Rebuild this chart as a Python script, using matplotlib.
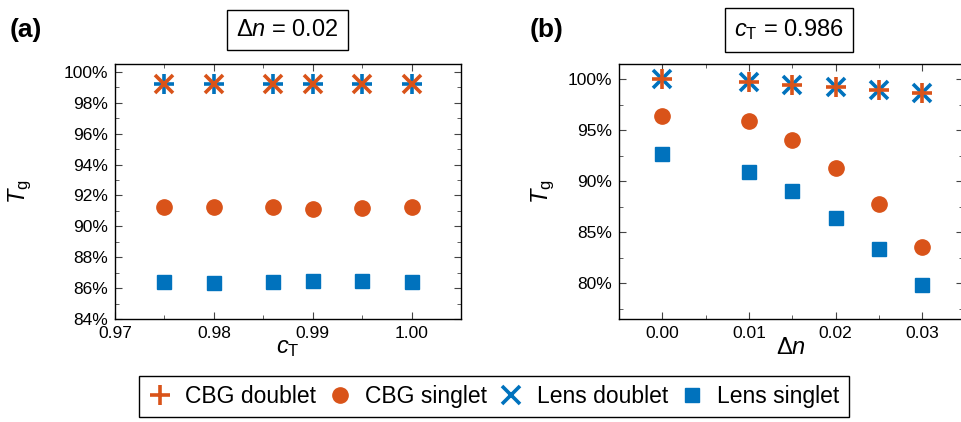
import matplotlib
matplotlib.use("Agg")
import matplotlib.pyplot as plt
from matplotlib.ticker import MultipleLocator, FuncFormatter

plt.rcParams.update({
    "font.family": "Liberation Sans", "font.size": 12.5,
    "mathtext.fontset": "custom", "mathtext.rm": "Liberation Sans",
    "mathtext.it": "Liberation Sans:italic", "mathtext.bf": "Liberation Sans:bold",
    "xtick.direction": "in", "ytick.direction": "in",
    "xtick.top": True, "ytick.right": True,
    "xtick.major.size": 5, "ytick.major.size": 5,
    "xtick.minor.size": 3, "ytick.minor.size": 3,
    "xtick.minor.visible": True, "ytick.minor.visible": True,
    "axes.linewidth": 1.0,
})
ORANGE, BLUE = "#D95319", "#0072BD"

# panel (a): delta n = 0.02, sweep over c_T
ct = [0.975, 0.98, 0.986, 0.99, 0.995, 1.00]
a_cbg_doublet = [99.2, 99.2, 99.2, 99.2, 99.2, 99.2]
a_lens_doublet = [99.2, 99.2, 99.2, 99.2, 99.2, 99.2]
a_cbg_singlet = [91.25, 91.27, 91.23, 91.15, 91.17, 91.23]
a_lens_singlet = [86.42, 86.35, 86.37, 86.48, 86.44, 86.37]

# panel (b): c_T = 0.986, sweep over delta n
dn = [0.0, 0.01, 0.015, 0.02, 0.025, 0.03]
b_cbg_doublet = [100.0, 99.74, 99.5, 99.28, 99.0, 98.7]
b_lens_doublet = [100.0, 99.74, 99.5, 99.28, 99.0, 98.7]
b_cbg_singlet = [96.45, 95.9, 94.05, 91.27, 87.75, 83.55]
b_lens_singlet = [92.65, 90.95, 89.05, 86.45, 83.4, 79.8]

pct = FuncFormatter(lambda v, _: f"{v:.0f}%")

fig = plt.figure(figsize=(9.61, 4.22), dpi=100)
axa = fig.add_axes([0.1197, 0.244, 0.360, 0.604])
axb = fig.add_axes([0.644, 0.244, 0.358, 0.604])

ms_d, mew_d = 15, 2.6
axa.plot(ct, a_lens_doublet, ls="none", marker="+", ms=ms_d, mew=mew_d, color=BLUE)
axa.plot(ct, a_cbg_doublet, ls="none", marker="x", ms=ms_d * 0.85, mew=mew_d, color=ORANGE)
axa.plot(ct, a_cbg_singlet, ls="none", marker="o", ms=11, color=ORANGE)
axa.plot(ct, a_lens_singlet, ls="none", marker="s", ms=9.5, color=BLUE)

h_ld, = axb.plot(dn, b_lens_doublet, ls="none", marker="x", ms=ms_d * 0.85, mew=mew_d, color=BLUE)
h_cd, = axb.plot(dn, b_cbg_doublet, ls="none", marker="+", ms=ms_d, mew=mew_d, color=ORANGE)
h_cs, = axb.plot(dn, b_cbg_singlet, ls="none", marker="o", ms=11, color=ORANGE)
h_ls, = axb.plot(dn, b_lens_singlet, ls="none", marker="s", ms=9.5, color=BLUE)

axa.set_xlim(0.97, 1.005)
axa.set_ylim(84, 100.5)
axa.xaxis.set_major_locator(MultipleLocator(0.01))
axa.xaxis.set_minor_locator(MultipleLocator(0.005))
axa.yaxis.set_major_locator(MultipleLocator(2))
axa.yaxis.set_minor_locator(MultipleLocator(1))
axa.xaxis.set_major_formatter(FuncFormatter(lambda v, _: f"{v:.2f}"))
axa.yaxis.set_major_formatter(pct)
axa.set_xlabel(r"$c_\mathrm{T}$", fontsize=17)
axa.set_ylabel(r"$T_\mathrm{g}$", fontsize=17)

axb.set_xlim(-0.005, 0.0347)
axb.set_ylim(76.5, 101.5)
axb.xaxis.set_major_locator(MultipleLocator(0.01))
axb.xaxis.set_minor_locator(MultipleLocator(0.005))
axb.yaxis.set_major_locator(MultipleLocator(5))
axb.yaxis.set_minor_locator(MultipleLocator(2.5))
axb.xaxis.set_major_formatter(FuncFormatter(lambda v, _: f"{v:.2f}"))
axb.yaxis.set_major_formatter(pct)
axb.set_xlabel(r"$\Delta n$", fontsize=17)
axb.set_ylabel(r"$T_\mathrm{g}$", fontsize=17)

axa.yaxis.set_label_coords(-0.275, 0.5)
axb.yaxis.set_label_coords(-0.221, 0.5)
for ax in (axa, axb):
    ax.xaxis.set_label_coords(0.5, -0.115)
    ax.xaxis.label.set_va("center")
    ax.yaxis.label.set_va("center")
    ax.tick_params(which="both", color="#444444", pad=5)
    ax.tick_params(which="major", labelsize=12.5)

box = dict(facecolor="white", edgecolor="black", linewidth=1, boxstyle="square,pad=0.4")
fig.text(0.299, 0.929, r"$\Delta n$ = 0.02", ha="center", va="center", fontsize=17, bbox=box)
fig.text(0.821, 0.929, r"$c_\mathrm{T}$ = 0.986", ha="center", va="center", fontsize=17, bbox=box)
fig.text(0.010, 0.929, "(a)", ha="left", va="center", fontsize=19, fontweight="bold")
fig.text(0.551, 0.929, "(b)", ha="left", va="center", fontsize=19, fontweight="bold")

leg = fig.legend([h_cd, h_cs, h_ld, h_ls],
                 ["CBG doublet", "CBG singlet", "Lens doublet", "Lens singlet"],
                 loc="center", bbox_to_anchor=(0.514, 0.061), ncol=4, fontsize=16.5,
                 frameon=True, fancybox=False, edgecolor="black", framealpha=1,
                 handlelength=1.0, handletextpad=0.6, columnspacing=0.55,
                 borderpad=0.4, borderaxespad=0.2)
leg.get_frame().set_linewidth(1.0)

fig.savefig("out.png", dpi=100)
